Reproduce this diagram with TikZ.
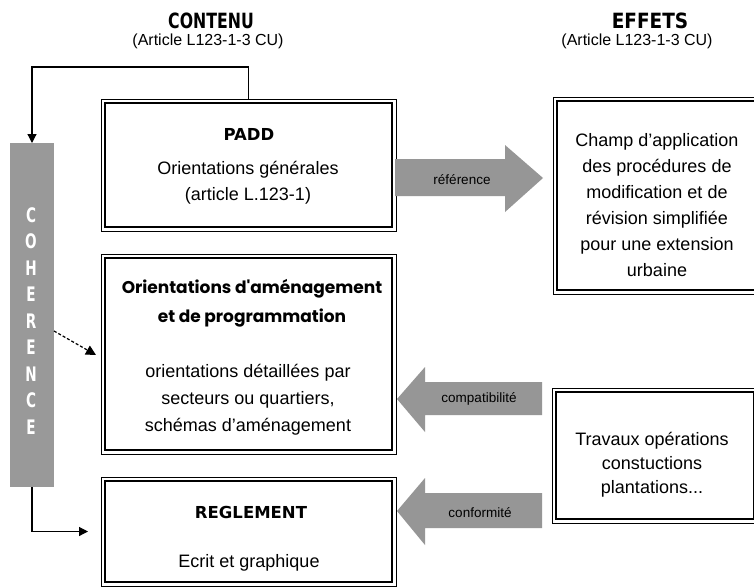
\documentclass[tikz,border=0pt]{standalone}
\usepackage{fontspec}
\setmainfont{Liberation Sans}
\newfontfamily\djv{DejaVu Sans}
\newfontfamily\pop{Poppins}
\usetikzlibrary{arrows.meta}
\definecolor{bargray}{RGB}{153,153,153}
\definecolor{arrgray}{RGB}{150,150,150}
\tikzset{
  frame/.style={draw=black, line width=1pt, rectangle, inner sep=0pt, outer sep=0pt, anchor=north west},
  innerframe/.style={draw=black, line width=2.8pt},
  body/.style={font=\fontsize{18}{26}\selectfont, align=center, inner sep=0pt},
  ttl/.style={font=\djv\bfseries\fontsize{16.5}{20}\selectfont, inner sep=0pt},
  hdr/.style={font=\djv\bfseries\fontsize{21}{24}\selectfont, inner sep=0pt},
  sub/.style={font=\fontsize{16}{19}\selectfont, inner sep=0pt},
  lbl/.style={font=\fontsize{13.5}{16}\selectfont, inner sep=0pt},
  conn/.style={draw=black, line width=1.2pt, -{Triangle[length=9pt,width=9pt]}},
  dconn/.style={draw=black, line width=1.2pt, densely dashed, -{Triangle[length=10pt,width=10pt]}},
  bigarrow/.style={fill=arrgray, draw=none},
}
\begin{document}
\begin{tikzpicture}[x=1pt,y=-1pt]
\clip (0,0) rectangle (754,587);
\fill[white] (0,0) rectangle (754,587);

% headers
\node[hdr] (hc) at (211,21) {\scalebox{0.75}[1]{CONTENU}};
\node[sub] (ac) at (208,41) {(Article L123-1-3 CU)};
\node[hdr] (he) at (650,21) {\scalebox{0.88}[1]{EFFETS}};
\node[sub] (ae) at (637,41) {(Article L123-1-3 CU)};

% boxes
\node[frame, minimum width=295, minimum height=132] (padd) at (101,99) {};
\node[frame, minimum width=295, minimum height=200] (oap) at (101,254) {};
\node[frame, minimum width=295, minimum height=109] (regl) at (101,477) {};
\node[frame, minimum width=206, minimum height=197] (champ) at (553,97) {};
\node[frame, minimum width=206, minimum height=135] (trav) at (552,388) {};
\foreach \b in {padd,oap,regl,champ,trav}{
  \draw[innerframe] ([shift={(4pt,-4pt)}]\b.north west) rectangle ([shift={(-4pt,4pt)}]\b.south east);
}

% COHERENCE bar
\node[fill=bargray, rectangle, inner sep=0pt, outer sep=0pt, anchor=north west,
      minimum width=44, minimum height=344] (bar) at (10,143) {};
\foreach \l [count=\i from 0] in {C,O,H,E,R,E,N,C,E}{
  \node[text=white, font=\djv\bfseries\fontsize{20}{20}\selectfont, inner sep=0pt] (c\i) at (31,215+26.5*\i) {\scalebox{0.68}[1]{\l}};
}

% texts
\node[ttl] (t1) at (249,134) {PADD};
\node[body] (t2) at (248,183) {Orientations générales\\(article L.123-1)};
\node[font=\pop\bfseries\fontsize{17}{29}\selectfont, align=center, inner sep=0pt] (t3) at (252,303) {Orientations d'aménagement\\et de programmation};
\node[body, font=\fontsize{18}{27}\selectfont] (t4) at (248,400) {orientations détaillées par\\secteurs ou quartiers,\\schémas d'aménagement};
\node[ttl] (t5) at (251,512) {REGLEMENT};
\node[body] (t6) at (249,563) {Ecrit et graphique};
\node[body] (t7) at (657,205) {Champ d'application\\des procédures de\\modification et de\\révision simplifiée\\pour une extension\\urbaine};
\node[body, font=\fontsize{18}{24}\selectfont] (t8) at (652,465) {Travaux opérations\\constuctions\\plantations...};

% big gray arrows
\fill[bigarrow] (395,159) -- (505,159) -- (505,145) -- (543,178) -- (505,212) -- (505,196) -- (395,196) -- cycle;
\fill[bigarrow] (542,382) -- (425,382) -- (425,367) -- (397,399) -- (425,432) -- (425,415) -- (542,415) -- cycle;
\fill[bigarrow] (542,493) -- (425,493) -- (425,478) -- (397,511) -- (425,545) -- (425,528) -- (542,528) -- cycle;
\node[lbl] (l1) at (462,180) {référence};
\node[lbl] (l2) at (479,399) {compatibilité};
\node[lbl] (l3) at (480,513) {conformité};

% connectors
\draw[conn] (padd.north) -- ++(0,-32) -| (bar.north);
\draw[dconn] ([yshift=-16pt]bar.east) -- ([shift={(-5pt,-101pt)}]oap.north west);
\draw[conn] (bar.south) |- ([xshift=-13pt]regl.west);
\end{tikzpicture}
\end{document}
